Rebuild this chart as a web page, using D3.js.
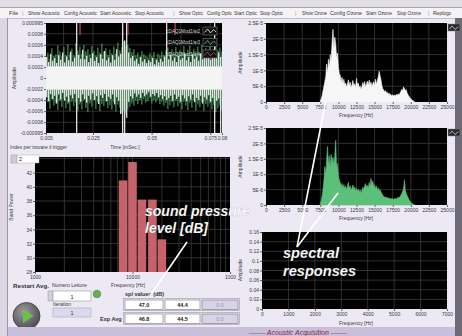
<!DOCTYPE html>
<html><head><meta charset="utf-8">
<script src="https://cdn.jsdelivr.net/npm/d3@7"></script>
<style>body{margin:0;background:#ece8f4;}svg{display:block}text{font-family:"Liberation Sans",Arial,sans-serif}</style>
</head><body><svg id="c" width="462" height="336"></svg>
<script>
// ---------------- DATA ----------------
const menuItems = ["File","|","Show Acoustic","Config Acoustic","Start Acoustic","Stop Acoustic","|","Show Optic","Config Optic","Start Optic","Stop Optic","|","Show Ozone","Config Ozone","Start Ozone","Stop Ozone","|","Riepilogo"];
const legendNames = ["cDAQ1Mod1/ai2","cDAQ1Mod1/ai3","cDAQ1Mod1/ai4"];
const timeTicks = [0.005,0.025,0.05,0.075,0.08];
const timeTickLabels = ["0.005","0.025","0.05","0.075","0.08"];
const ampTicks = [-0.000995,-0.0008,-0.0006,-0.0004,-0.0002,0,0.0002,0.0004,0.0006,0.0008,0.000995];
const ampTickLabels = ["-0.000995","-0.0008","-0.0006","-0.0004","-0.0002","0","0.0002","0.0004","0.0006","0.0008","0.000995"];
// time-signal envelopes per time bin (units 1e-4)
const whiteCore = [-2.1, 2.1];
const whiteHi = [3.8,2.9,4.4,3.1,3.6,2.7,4.1,3.3,4.6,2.8, 3.9,3.2,4.8,3.0,3.7,9.95,4.2,3.5,5.1,3.4, 4.0,2.9,3.6,4.5,3.1,3.8,2.7,4.3,3.5,4.9, 3.2,3.7,2.8,4.1,3.3,5.2,3.9,4.4,9.95,6.8, 9.95,4.6,3.6,4.0,3.1,3.5,2.6,3.8,3.0,3.4, 2.7,3.2,2.9,3.6,2.5,3.3,2.8,3.5,3.0,3.9, 9.95,3.4,4.2,3.1,3.7,2.9,4.0,3.3,3.6,4.4, 3.2,3.8,2.9,4.3,3.5,3.9,3.1,4.5,3.4,4.0, 3.6,4.2,3.3,3.9,9.95,3.7,4.6,3.8];
const whiteLo = [-3.5,-4.2,-2.9,-3.8,-3.2,-4.6,-3.0,-3.9,-2.7,-4.1, -3.4,-4.4,-3.1,-3.7,-2.9,-9.95,-3.6,-4.3,-3.0,-3.8, -4.5,-3.2,-3.9,-2.8,-4.0,-3.3,-4.7,-3.1,-3.6,-2.9, -4.2,-3.4,-3.8,-3.0,-4.8,-3.5,-4.1,-6.5,-9.95,-9.95, -7.2,-4.3,-3.3,-3.7,-2.8,-3.4,-3.0,-3.6,-2.7,-3.3, -3.0,-2.6,-3.4,-2.9,-3.2,-2.7,-3.5,-3.1,-3.8,-3.3, -4.0,-3.6,-3.2,-4.1,-3.0,-3.8,-3.4,-4.3,-3.1,-3.7, -4.2,-3.3,-3.9,-3.0,-4.4,-3.6,-4.0,-3.2,-4.6,-3.5, -3.9,-3.1,-4.3,-3.6,-9.95,-4.1,-3.7,-9.95];
const greenHi = [4.6,3.5,5.4,4.0,4.3,5.9,4.8,3.9,5.6,4.2, 6.1,4.5,5.3,4.1,6.3,5.0,5.7,4.4,6.0,4.8, 5.2,4.3,5.8,4.9,4.1,5.5,4.6,6.2,4.8,5.4, 4.2,5.1,4.5,5.7,4.4,6.4,5.0,5.6,6.6,5.8, 6.0,5.4,4.7,5.2,4.1,4.6,3.9,4.9,4.3,4.0, 3.8,4.5,4.0,4.7,3.6,4.4,4.1,4.8,4.2,5.0, 5.5,4.6,5.2,4.3,5.6,4.5,5.0,4.7,5.8,4.4, 5.1,5.9,4.6,5.3,4.8,5.7,4.5,6.0,4.9,5.4, 4.7,5.8,4.9,5.2,6.1,5.0,5.5,4.8];
const greenLo = [-4.4,-5.6,-3.9,-5.0,-4.6,-5.8,-4.2,-5.3,-3.8,-5.5, -4.7,-6.0,-4.3,-5.1,-4.5,-5.9,-4.8,-5.7,-4.1,-5.4, -6.2,-4.6,-5.2,-4.0,-5.6,-4.4,-6.0,-4.7,-5.1,-4.3, -5.5,-4.9,-5.8,-4.4,-6.1,-4.8,-5.4,-6.3,-5.9,-6.4, -5.7,-5.2,-4.6,-5.0,-4.1,-4.7,-4.0,-4.8,-3.8,-4.5, -4.2,-3.7,-4.6,-4.0,-4.4,-3.9,-4.7,-4.3,-5.0,-4.5, -5.6,-4.9,-4.4,-5.3,-4.2,-5.1,-4.6,-5.7,-4.3,-5.0, -5.8,-4.5,-5.4,-4.1,-5.9,-4.8,-5.3,-4.4,-6.0,-4.7, -5.2,-4.6,-5.7,-4.9,-6.2,-5.5,-5.0,-5.8];
const redSpikeTimes = [0.0195,0.0399,0.0600];
const redSpikeLow = 0.00078;
// spectra (units 1e-6), 125 Hz steps starting 7500 Hz
const specStart = 7500, specStep = 125;
const whiteSpec = [0.3,1.0,2.0,3.5,5.0,6.5,8.0,12.0,9.0,13.5, 11.0,15.0,13.0,19.0,23.0,17.0,20.5,18.5,14.0,15.5, 11.0,9.0,8.5,6.5,7.8,5.8,7.2,5.5,6.0,4.8, 5.6,7.0,5.2,6.3,4.6,5.4,6.8,5.0,5.8,4.5, 7.5,5.3,6.0,4.4,5.1,4.0,4.8,6.2,5.0,6.5, 4.7,5.6,6.6,5.2,6.9,5.4,6.3,4.9,5.8,6.4, 5.1,7.2,5.5,6.8,7.9,9.7,8.4,7.1,5.3,4.2, 3.8,3.2,3.6,2.9,3.1,2.5,2.8,2.2,2.4,2.0, 2.3,1.9,2.2,2.0,2.4,2.1,2.6,2.3,2.8,3.3, 4.0,3.5,4.8,4.2,3.6,3.9,2.8,2.2,1.8,1.4, 1.0,0.7,0.5,0.3,0.1];
const greenSpec = [0.5,1.5,3.0,5.0,8.0,12.5,10.0,14.5,19.0,13.0, 16.0,12.0,16.5,14.0,15.5,13.0,15.8,21.0,12.0,13.5, 9.5,8.0,7.4,6.0,7.0,5.5,6.6,5.2,6.2,5.0, 6.0,7.4,5.4,6.2,4.8,5.6,6.5,5.0,5.9,4.6, 5.4,4.4,5.1,4.2,4.9,4.0,4.7,5.8,4.9,6.2, 7.0,5.7,6.4,5.5,7.3,6.2,8.6,6.9,7.8,5.9, 6.6,5.3,6.2,5.0,5.6,4.6,5.0,4.2,3.8,3.2, 2.8,2.5,2.7,2.3,2.5,2.1,2.3,2.0,2.2,1.9, 2.1,1.8,2.0,2.2,1.9,2.3,2.5,2.2,2.8,3.2, 3.8,4.5,5.2,8.2,4.6,3.8,3.0,2.4,1.8,1.3, 0.9,0.6,0.4,0.2,0.1];
const specXTicks = [0,2500,5000,7500,10000,12500,15000,17500,20000,22500,25000];
const specYTicks = [0,5e-6,1e-5,1.5e-5,2e-5,2.5e-5];
const specYLabels = ["0","5E-6","1E-5","1.5E-5","2E-5","2.5E-5"];
const ozXTicks = [0,1000,2000,3000,4000,5000,6000,7000];
const ozYTicks = [0,0.02,0.04,0.06,0.08,0.1,0.12,0.14,0.16];
const ozYLabels = ["0","0.02","0.04","0.06","0.08","0.1","0.12","0.14","0.16"];
// third-octave band power
const bandCenters = [8000,10000,12500,16000,20000];
const bandPower = [40.9,43.5,38.2,38.2,32.6];
const bandYTicks = [28,30,32,34,36,38,40,42];
const bandXTicks = [1000,10000,100000];
const bandXLabels = ["1000","10000","1000"];
const splValues = ["47.0","44.4","0.0"];
const expAvgValues = ["46.8","44.5","0.0"];
const numeroLetture = "1", iteration = "1", triggerIndex = "2";

// ---------------- DRAW ----------------
const svg = d3.select("#c");
const BG = "#ece8f4", GRID = "#3c3c3c", TXT = "#3a3a40";

svg.append("rect").attr("width",462).attr("height",336).attr("fill",BG);
svg.append("rect").attr("x",0).attr("y",0).attr("width",462).attr("height",7).attr("fill","#e2dee6");
svg.append("rect").attr("x",0).attr("y",7).attr("width",462).attr("height",11).attr("fill","#f5f3f7");
svg.append("line").attr("x1",0).attr("x2",462).attr("y1",7.5).attr("y2",7.5).attr("stroke","#a8a4ad");
svg.append("line").attr("x1",0).attr("x2",462).attr("y1",18.5).attr("y2",18.5).attr("stroke","#c2bec8");
svg.append("rect").attr("x",0).attr("y",18).attr("width",7).attr("height",318).attr("fill","#dcd6e4");
svg.append("line").attr("x1",7.5).attr("x2",7.5).attr("y1",18).attr("y2",336).attr("stroke","#9a94a4");
svg.append("rect").attr("x",455).attr("y",18).attr("width",7).attr("height",318).attr("fill","#6e6977");

const menuX = [9,22,28,64,100,135,173,179,207,234,260,295,302,330,366,397,428,433];
const menuW = [9,0,32,33,31,29,0,24,25,23,23,0,25,32,26,24,0,18];
svg.append("g").selectAll("text").data(menuItems).join("text")
  .attr("x",(d,i)=>menuX[i]).attr("y",15).attr("font-size",5).attr("fill",d=>d==="|"?"#999":"#333")
  .each(function(d,i){ if(menuW[i]>0) d3.select(this).attr("textLength",menuW[i]).attr("lengthAdjust","spacingAndGlyphs"); })
  .text(d=>d);

function styleAxis(g, fs){
  g.select(".domain").remove();
  g.selectAll("line").attr("stroke","#666");
  g.selectAll("text").attr("font-size",fs||5).attr("fill",TXT);
}
function plotBg(x0,y0,x1,y1){
  svg.append("rect").attr("x",x0).attr("y",y0).attr("width",x1-x0).attr("height",y1-y0).attr("fill","#000");
}
function gridLines(xs, ys, xv, yv){
  const g = svg.append("g").attr("stroke",GRID).attr("stroke-width",0.8);
  g.selectAll("line.v").data(xv).join("line").attr("class","v")
    .attr("x1",d=>xs(d)).attr("x2",d=>xs(d)).attr("y1",ys.range()[0]).attr("y2",ys.range()[1]);
  g.selectAll("line.h").data(yv).join("line").attr("class","h")
    .attr("y1",d=>ys(d)).attr("y2",d=>ys(d)).attr("x1",xs.range()[0]).attr("x2",xs.range()[1]);
}
function label(x,y,t,opt){
  opt=opt||{};
  const e = svg.append("text").attr("x",x).attr("y",y).attr("font-size",opt.fs||5).attr("fill",opt.fill||TXT)
    .attr("text-anchor",opt.anchor||"start").text(t);
  if(opt.rot) e.attr("transform",`rotate(-90,${x},${y})`);
  if(opt.bold) e.attr("font-weight","bold");
  if(opt.italic) e.attr("font-style","italic");
  return e;
}

// ---- Panel 1: time signal ----
{
  const x = d3.scaleLinear().domain([0.005,0.08]).range([46,222]);
  const y = d3.scaleLinear().domain([-0.000995,0.000995]).range([133,23]);
  plotBg(46,23,222,133);
  gridLines(x,y,[0.0125,0.025,0.0375,0.05,0.0625,0.075],ampTicks.slice(1,-1));
  const n = whiteHi.length, dt = 0.075/n;
  const tb = d3.range(n).map(i=>0.005+(i+0.5)*dt);
  svg.append("clipPath").attr("id","c1").append("rect").attr("x",46).attr("y",23).attr("width",176).attr("height",110);
  const g = svg.append("g").attr("clip-path","url(#c1)");
  g.selectAll("line.g").data(tb).join("line").attr("class","g")
    .attr("x1",d=>x(d)+0.9).attr("x2",d=>x(d)+0.9).attr("y1",(d,i)=>y(greenHi[i]*1e-4)).attr("y2",(d,i)=>y(greenLo[i]*1e-4))
    .attr("stroke","#5fbf78").attr("stroke-width",0.9);
  g.append("rect").attr("x",46).attr("width",176).attr("y",y(whiteCore[1]*1e-4)).attr("height",y(whiteCore[0]*1e-4)-y(whiteCore[1]*1e-4)).attr("fill","#f2f2f2");
  g.selectAll("line.w").data(tb).join("line").attr("class","w")
    .attr("x1",d=>x(d)-0.3).attr("x2",d=>x(d)-0.3).attr("y1",(d,i)=>y(whiteHi[i]*1e-4)).attr("y2",(d,i)=>y(whiteLo[i]*1e-4))
    .attr("stroke","#f4f4f4").attr("stroke-width",1.2);
  g.selectAll("line.r").data(redSpikeTimes).join("line").attr("class","r")
    .attr("x1",d=>x(d)).attr("x2",d=>x(d)).attr("y1",y(0.000995)).attr("y2",y(redSpikeLow))
    .attr("stroke","#c2406a").attr("stroke-width",1.3);
  svg.append("g").attr("transform","translate(46,0)")
    .call(d3.axisLeft(y).tickValues(ampTicks).tickFormat((d,i)=>ampTickLabels[i]).tickSize(2).tickPadding(1)).call(styleAxis);
  svg.append("g").attr("transform","translate(0,133)")
    .call(d3.axisBottom(x).tickValues(timeTicks).tickFormat((d,i)=>timeTickLabels[i]).tickSize(2).tickPadding(1)).call(styleAxis);
  label(16,78,"Amplitude",{rot:true,anchor:"middle"});
  label(125,149,"Time [mSec.]",{anchor:"middle"});
  label(10,149,"Index per trovare il trigger");
  const lg = svg.append("g");
  const lc = ["#f0f0f0","#5fbf78","#c2406a"];
  legendNames.forEach((nm,i)=>{
    const yy = 31+i*11.5;
    lg.append("text").attr("x",200).attr("y",yy+1.5).attr("text-anchor","end").attr("font-size",4.6).attr("fill","#d8d8d8").text(nm);
    lg.append("rect").attr("x",203).attr("y",yy-4).attr("width",14).attr("height",8).attr("fill","#111").attr("stroke","#777").attr("stroke-width",0.6);
    lg.append("path").attr("d",`M204.5,${yy+1.5} L207.5,${yy-2} L210.5,${yy+2} L213.5,${yy-1.5} L216,${yy+1}`)
      .attr("fill","none").attr("stroke",lc[i]).attr("stroke-width",0.8);
  });
}

// ---- Panel 2 & 3: spectra ----
function spectrum(y0,y1,data,color){
  const x = d3.scaleLinear().domain([0,25000]).range([266,447]);
  const y = d3.scaleLinear().domain([0,2.5e-5]).range([y1,y0]);
  plotBg(266,y0,447,y1);
  gridLines(x,y,specXTicks.slice(1,-1),specYTicks.slice(1,-1));
  const pts = data.map((v,i)=>[specStart+i*specStep, v*1e-6]);
  svg.append("path").datum(pts)
    .attr("d",d3.area().x(d=>x(d[0])).y0(y(0)).y1(d=>y(d[1])))
    .attr("fill",color).attr("stroke",color).attr("stroke-width",0.6);
  svg.append("g").attr("transform","translate(266,0)")
    .call(d3.axisLeft(y).tickValues(specYTicks).tickFormat((d,i)=>specYLabels[i]).tickSize(2).tickPadding(1)).call(styleAxis);
  svg.append("g").attr("transform",`translate(0,${y1})`)
    .call(d3.axisBottom(x).tickValues(specXTicks).tickFormat(d3.format("d")).tickSize(2).tickPadding(1)).call(styleAxis);
  label(242,(y0+y1)/2,"Amplitude",{rot:true,anchor:"middle"});
  label(356,y1+15,"Frequency [Hz]",{anchor:"middle"});
  svg.append("rect").attr("x",448).attr("y",y0+1).attr("width",12).attr("height",7).attr("fill","#2a2a2e").attr("stroke","#888").attr("stroke-width",0.5);
  svg.append("path").attr("d",`M449.5,${y0+6} L452,${y0+3} L455,${y0+6.5} L458.5,${y0+3.5}`).attr("fill","none").attr("stroke","#eee").attr("stroke-width",0.7);
}
spectrum(23,102,whiteSpec,"#f6f6f6");
spectrum(128,205,greenSpec,"#5cbf7a");

// ---- Panel 4: empty ozone spectrum ----
{
  const x = d3.scaleLinear().domain([0,7000]).range([262,447]);
  const y = d3.scaleLinear().domain([0,0.16]).range([309,232]);
  plotBg(262,232,447,309);
  gridLines(x,y,ozXTicks.slice(1,-1),ozYTicks.slice(1,-1));
  svg.append("g").attr("transform","translate(262,0)")
    .call(d3.axisLeft(y).tickValues(ozYTicks).tickFormat((d,i)=>ozYLabels[i]).tickSize(2).tickPadding(1)).call(styleAxis);
  svg.append("g").attr("transform","translate(0,309)")
    .call(d3.axisBottom(x).tickValues(ozXTicks).tickFormat(d3.format("d")).tickSize(2).tickPadding(1)).call(styleAxis);
  label(242,270,"Amplitude",{rot:true,anchor:"middle"});
  label(356,325,"Frequency [Hz]",{anchor:"middle"});
}

// ---- Panel 5: band power bars ----
{
  const x = d3.scaleLog().domain([1000,100000]).range([35,230]);
  const y = d3.scaleLinear().domain([28,44.2]).range([272,157]);
  plotBg(35,157,230,272);
  const minor = [];
  [1000,10000].forEach(dec=>{for(let k=2;k<=9;k++) minor.push(dec*k);});
  minor.push(10000);
  gridLines(x,y,minor,[30,32,34,36,38,40,42,44]);
  const edge = Math.pow(2,1/6);
  svg.append("g").selectAll("rect").data(bandCenters).join("rect")
    .attr("x",d=>x(d/edge)+0.6).attr("width",d=>x(d*edge)-x(d/edge)-1.2)
    .attr("y",(d,i)=>y(bandPower[i])).attr("height",(d,i)=>272-y(bandPower[i]))
    .attr("fill","#c6626b");
  svg.append("g").attr("transform","translate(35,0)")
    .call(d3.axisLeft(y).tickValues(bandYTicks).tickFormat(d3.format("d")).tickSize(2).tickPadding(1)).call(styleAxis);
  svg.append("g").attr("transform","translate(0,272)")
    .call(d3.axisBottom(x).tickValues(bandXTicks).tickFormat((d,i)=>bandXLabels[i]).tickSize(2).tickPadding(1.5)).call(styleAxis);
  label(13,207,"Band Power",{rot:true,anchor:"middle"});
  label(128,287,"Frequency [Hz]",{anchor:"middle"});
  svg.append("rect").attr("x",11).attr("y",155).attr("width",6).attr("height",8).attr("fill","#cfcad8").attr("stroke","#999").attr("stroke-width",0.5);
  svg.append("rect").attr("x",17).attr("y",155).attr("width",22).attr("height",8).attr("fill","#fff").attr("stroke","#aaa").attr("stroke-width",0.5);
  label(19,161,triggerIndex,{fs:5.5,fill:"#222"});
}

// ---- Controls ----
{
  label(13,288,"Restart Avg.",{fs:6.2,bold:true,fill:"#333"});
  const gr = svg.append("defs").append("radialGradient").attr("id","btn").attr("cx","40%").attr("cy","35%").attr("r","70%");
  gr.append("stop").attr("offset","0%").attr("stop-color","#9b9b9e");
  gr.append("stop").attr("offset","100%").attr("stop-color","#4a4a4e");
  svg.append("circle").attr("cx",26.5).attr("cy",316).attr("r",13.5).attr("fill","url(#btn)").attr("stroke","#3c3c40").attr("stroke-width",0.8);
  svg.append("path").attr("d","M23,309 L23,323 L33.5,316 Z").attr("fill","#6cc04c");
  label(52,287,"Numero Letture",{fs:5});
  svg.append("rect").attr("x",48).attr("y",291).attr("width",5).attr("height",10).attr("fill","#d3cedc").attr("stroke","#999").attr("stroke-width",0.5);
  svg.append("rect").attr("x",53).attr("y",291).attr("width",38).attr("height",10).attr("fill","#fff").attr("stroke","#999").attr("stroke-width",0.6);
  label(72,298.5,numeroLetture,{anchor:"middle",fs:5.5,fill:"#222"});
  svg.append("circle").attr("cx",97).attr("cy",294).attr("r",3.8).attr("fill","#62b04e").attr("stroke","#4a7a40").attr("stroke-width",0.5);
  label(53,306,"Iteration",{fs:5});
  svg.append("rect").attr("x",53).attr("y",308).attr("width",38).attr("height",9).attr("fill","#dcd8ee").attr("stroke","#aaa").attr("stroke-width",0.6);
  label(72,314.5,iteration,{anchor:"middle",fs:5.5,fill:"#333"});
  label(125,296,"spl values (dB)",{fs:5.5,bold:true,fill:"#333"});
  label(100,321,"Exp Avg",{fs:5.5,bold:true,fill:"#333"});
  const cellX = [[125,163],[165,200],[202,238]];
  [[splValues,300],[expAvgValues,314]].forEach(([vals,yy])=>{
    svg.append("rect").attr("x",123.5).attr("y",yy-1.5).attr("width",116).attr("height",12).attr("fill","none").attr("stroke","#9c98a8").attr("stroke-width",0.6);
    vals.forEach((v,i)=>{
      const [a,b]=cellX[i];
      svg.append("rect").attr("x",a).attr("y",yy).attr("width",b-a).attr("height",9.5)
        .attr("fill",i===2?"#d8d3e6":"#fff").attr("stroke","#777").attr("stroke-width",0.6);
      label((a+b)/2,yy+7,v,{anchor:"middle",fs:5.5,bold:i<2,fill:i===2?"#9a96a6":"#222"});
    });
  });
}

// ---- bottom bar ----
svg.append("rect").attr("x",8).attr("y",327).attr("width",447).attr("height",9).attr("fill","#c8c0da");
label(298,334.5,"------- Acoustic Acquisition -------",{anchor:"middle",fs:7,italic:true,fill:"#8a1c40"});

// ---- annotations ----
const ann = svg.append("g").attr("stroke","#fff").attr("stroke-width",1.6);
ann.append("line").attr("x1",187).attr("y1",242).attr("x2",150).attr("y2",296);
ann.append("line").attr("x1",297).attr("y1",247).attr("x2",326).attr("y2",100);
ann.append("line").attr("x1",297).attr("y1",247).attr("x2",338).attr("y2",193);
[["sound pressure",145,216,14],["level [dB]",145,233,14],["spectral",283,258,14.6],["responses",283,276,14.6]].forEach(([t,x,y,fs])=>{
  label(x,y,t,{fs:fs,bold:true,italic:true,fill:"#fff"}).attr("stroke","rgba(90,90,90,0.35)").attr("stroke-width",0.4);
});
</script></body></html>
